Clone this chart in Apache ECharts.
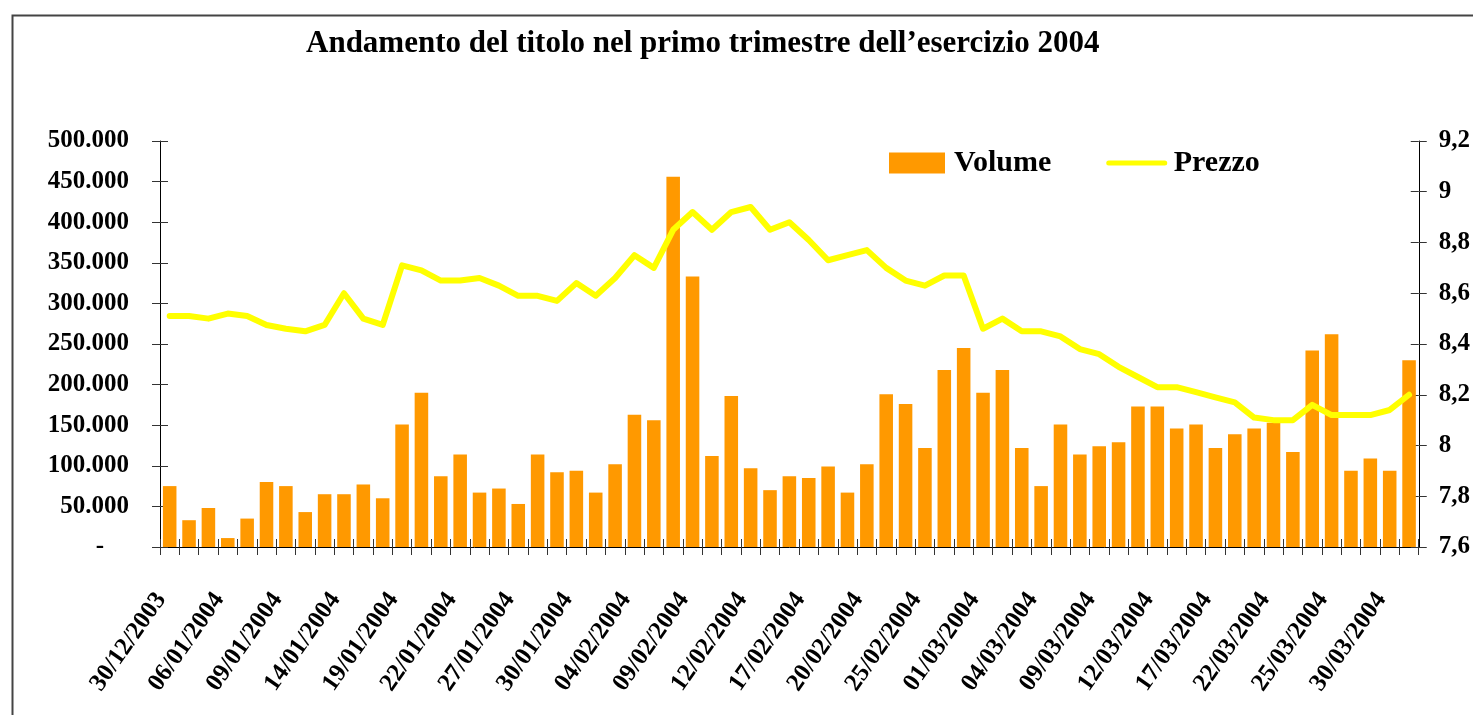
<!DOCTYPE html>
<html><head><meta charset="utf-8">
<script src="https://cdn.jsdelivr.net/npm/echarts@6/dist/echarts.min.js"></script>
<style>html,body{margin:0;padding:0;background:#fff;overflow:hidden}#c{width:1473px;height:715px}</style>
</head><body><div id="c"></div>
<script>
const categories = [
  '30/12/2003','31/12/2003','05/01/2004','06/01/2004','07/01/2004','08/01/2004','09/01/2004','12/01/2004','13/01/2004','14/01/2004',
  '15/01/2004','16/01/2004','19/01/2004','20/01/2004','21/01/2004','22/01/2004','23/01/2004','26/01/2004','27/01/2004','28/01/2004',
  '29/01/2004','30/01/2004','02/02/2004','03/02/2004','04/02/2004','05/02/2004','06/02/2004','09/02/2004','10/02/2004','11/02/2004',
  '12/02/2004','13/02/2004','16/02/2004','17/02/2004','18/02/2004','19/02/2004','20/02/2004','23/02/2004','24/02/2004','25/02/2004',
  '26/02/2004','27/02/2004','01/03/2004','02/03/2004','03/03/2004','04/03/2004','05/03/2004','08/03/2004','09/03/2004','10/03/2004',
  '11/03/2004','12/03/2004','15/03/2004','16/03/2004','17/03/2004','18/03/2004','19/03/2004','22/03/2004','23/03/2004','24/03/2004',
  '25/03/2004','26/03/2004','29/03/2004','30/03/2004','31/03/2004'
];
const volume = [
  75000,33000,48000,11000,35000,80000,75000,43000,65000,65000,
  77000,60000,151000,190000,87000,114000,67000,72000,53000,114000,
  92000,94000,67000,102000,163000,156000,456000,333000,112000,186000,
  97000,70000,87000,85000,99000,67000,102000,188000,176000,122000,
  218000,245000,190000,218000,122000,75000,151000,114000,124000,129000,
  173000,173000,146000,151000,122000,139000,146000,153000,117000,242000,
  262000,94000,109000,94000,230000
];
const prezzo = [
  8.51,8.51,8.50,8.52,8.51,8.475,8.46,8.45,8.475,8.60,
  8.50,8.475,8.71,8.69,8.65,8.65,8.66,8.63,8.59,8.59,
  8.57,8.64,8.59,8.66,8.75,8.70,8.85,8.92,8.85,8.92,
  8.94,8.85,8.88,8.81,8.73,8.75,8.77,8.70,8.65,8.63,
  8.67,8.67,8.46,8.50,8.45,8.45,8.43,8.38,8.36,8.31,
  8.27,8.23,8.23,8.21,8.19,8.17,8.11,8.10,8.10,8.16,
  8.12,8.12,8.12,8.14,8.20
];
const volumeTickLabels = ['-    ','50.000','100.000','150.000','200.000','250.000','300.000','350.000','400.000','450.000','500.000'];
const prezzoTickLabels = ['7,6','7,8','8','8,2','8,4','8,6','8,8','9','9,2'];
const titleText = 'Andamento del titolo nel primo trimestre dell\u2019esercizio 2004';

const FONT = '"Liberation Serif", "Times New Roman", serif';
const chart = echarts.init(document.getElementById('c'), null, {renderer: 'canvas'});
const tickStyle = {color: '#333', width: 1};
const gridPos = {left: 160, right: 51, top: 141, bottom: 168};

chart.setOption({
  backgroundColor: '#fff',
  animation: false,
  title: {
    text: titleText, left: 306, top: 28, padding: 0,
    textStyle: {fontFamily: FONT, fontWeight: 'bold', fontSize: 31, color: '#000'}
  },
  legend: {
    left: 889, top: 148, padding: 0, itemWidth: 56, itemHeight: 21, itemGap: 55,
    textStyle: {fontFamily: FONT, fontWeight: 'bold', fontSize: 30, color: '#000', padding: [0,0,0,4]},
    data: [
      {name: 'Volume', icon: 'rect'},
      {name: 'Prezzo', itemStyle: {opacity: 0}, lineStyle: {width: 5, color: '#FFFF00'}}
    ]
  },
  graphic: [{
    type: 'rect', left: 10, top: 13, silent: true,
    shape: {width: 1700, height: 900},
    style: {fill: 'none', stroke: '#444', lineWidth: 2}
  }],
  grid: gridPos,
  xAxis: [{
    type: 'category', data: categories, boundaryGap: true,
    axisLine: {show: true, lineStyle: {color: '#000', width: 1}},
    axisTick: {show: true, interval: 0, length: 8, lineStyle: tickStyle},
    axisLabel: {
      interval: 2, rotate: 55, margin: 36, padding: [0, 15, 0, 0],
      fontFamily: FONT, fontWeight: 'bold', fontSize: 25, color: '#000'
    },
    splitLine: {show: false}
  }, {
    type: 'category', data: categories, boundaryGap: true, position: 'bottom',
    axisLine: {show: false},
    axisTick: {show: true, inside: true, interval: 0, length: 8, lineStyle: tickStyle},
    axisLabel: {show: false}, splitLine: {show: false}
  }],
  yAxis: [{
    type: 'value', min: 0, max: 500000, interval: 50000, position: 'left',
    axisLine: {show: true, lineStyle: {color: '#000', width: 1}},
    axisTick: {show: true, length: 8, lineStyle: tickStyle},
    axisLabel: {
      margin: 31, fontFamily: FONT, fontWeight: 'bold', fontSize: 25, color: '#000',
      formatter: v => volumeTickLabels[Math.round(v / 50000)]
    },
    splitLine: {show: false}
  }, {
    type: 'value', min: 7.6, max: 9.2, interval: 0.2, position: 'right',
    axisLine: {show: true, lineStyle: {color: '#000', width: 1}},
    axisTick: {show: true, length: 8, lineStyle: tickStyle},
    axisLabel: {
      margin: 20, fontFamily: FONT, fontWeight: 'bold', fontSize: 25, color: '#000',
      formatter: v => prezzoTickLabels[Math.round((v - 7.6) / 0.2)]
    },
    splitLine: {show: false}
  }, {
    type: 'value', min: 0, max: 500000, interval: 50000, position: 'left',
    axisLine: {show: false},
    axisTick: {show: true, inside: true, length: 8, lineStyle: tickStyle},
    axisLabel: {show: false}, splitLine: {show: false}
  }, {
    type: 'value', min: 7.6, max: 9.2, interval: 0.2, position: 'right',
    axisLine: {show: false},
    axisTick: {show: true, inside: true, length: 8, lineStyle: tickStyle},
    axisLabel: {show: false}, splitLine: {show: false}
  }],
  series: [{
    name: 'Volume', type: 'bar', data: volume, xAxisIndex: 0, yAxisIndex: 0,
    barCategoryGap: '30%', itemStyle: {color: '#FF9900'}, z: 2
  }, {
    name: 'Prezzo', type: 'line', data: prezzo, xAxisIndex: 0, yAxisIndex: 1,
    symbol: 'none', lineStyle: {color: '#FFFF00', width: 6, join: 'round', cap: 'round'},
    itemStyle: {color: '#FFFF00'}, z: 3
  }]
});
</script>
</body></html>
